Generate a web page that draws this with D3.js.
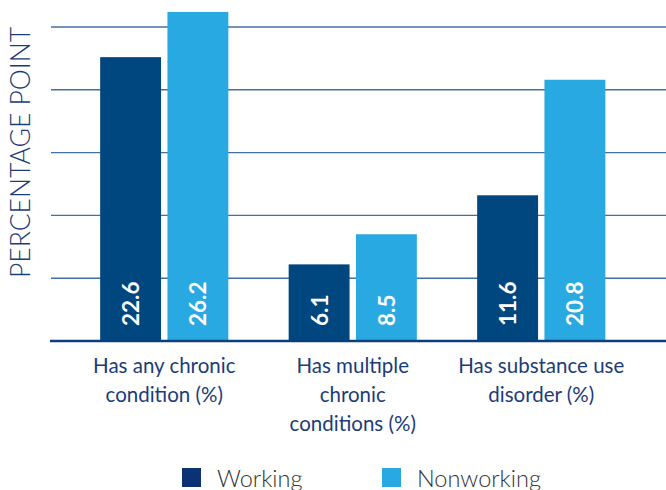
<!DOCTYPE html>
<html>
<head>
<meta charset="utf-8">
<script src="https://cdn.jsdelivr.net/npm/d3@7"></script>
<style>
  html, body { margin: 0; padding: 0; background: #fff; }
  svg { display: block; }
</style>
</head>
<body>
<svg id="chart" width="666" height="490"></svg>
<script>
const categories = [
  ["Has any chronic", "condition (%)"],
  ["Has multiple", "chronic", "conditions (%)"],
  ["Has substance use", "disorder (%)"]
];
const categoryKeys = ["any", "multiple", "substance"];
const seriesNames = ["Working", "Nonworking"];
const working = [22.6, 6.1, 11.6];
const nonworking = [26.2, 8.5, 20.8];
const yTicks = [5, 10, 15, 20, 25];
const yTitle = "PERCENTAGE POINT";

const colors = { Working: "#00467f", Nonworking: "#29a9e1" };
const legendColors = { Working: "#0b3373", Nonworking: "#29a9e1" };

const svg = d3.select("#chart");

const x0 = d3.scaleBand().domain(categoryKeys).range([70, 635.5])
  .paddingInner(0.32).paddingOuter(0.16);
const x1 = d3.scaleBand().domain(seriesNames).range([0, x0.bandwidth()])
  .paddingInner(0.095).paddingOuter(0);
const y = d3.scaleLinear().domain([0, 25]).range([341, 27]);

// gridlines
svg.append("g").selectAll("line").data(yTicks).join("line")
  .attr("x1", 51).attr("x2", 666)
  .attr("y1", d => y(d)).attr("y2", d => y(d))
  .attr("stroke", "#43709f").attr("stroke-width", 1.4);

// bars
const rows = categoryKeys.map((k, i) => ({ key: k, values: [
  { s: "Working", v: working[i] }, { s: "Nonworking", v: nonworking[i] }] }));

const groups = svg.append("g").selectAll("g").data(rows).join("g")
  .attr("transform", d => `translate(${x0(d.key)},0)`);

groups.selectAll("rect").data(d => d.values).join("rect")
  .attr("x", d => x1(d.s)).attr("width", x1.bandwidth())
  .attr("y", d => y(d.v)).attr("height", d => y(0) - y(d.v))
  .attr("fill", d => colors[d.s]);

groups.selectAll("text").data(d => d.values).join("text")
  .attr("transform", d => `translate(${x1(d.s) + x1.bandwidth() / 2 + 8.5},326) rotate(-90)`)
  .attr("text-anchor", "start")
  .attr("fill", "#fff")
  .attr("font-family", "Lato, 'Liberation Sans', sans-serif")
  .attr("font-weight", 700)
  .attr("font-size", 22.5)
  .text(d => d.v.toFixed(1));

// baseline
svg.append("line").attr("x1", 50).attr("x2", 666)
  .attr("y1", y(0)).attr("y2", y(0))
  .attr("stroke", "#0a3f7d").attr("stroke-width", 2.6);

// category labels
const catG = svg.append("g");
categoryKeys.forEach((k, i) => {
  const t = catG.append("text")
    .attr("x", x0(k) + x0.bandwidth() / 2)
    .attr("y", 373)
    .attr("text-anchor", "middle")
    .attr("fill", "#1b3c78")
    .attr("font-family", "Lato, 'Liberation Sans', sans-serif")
    .attr("font-size", 20.5);
  categories[i].forEach((line, j) => {
    t.append("tspan").attr("x", x0(k) + x0.bandwidth() / 2)
      .attr("dy", j === 0 ? 0 : 29).text(line);
  });
});

// y axis title
svg.append("text")
  .attr("transform", "translate(30,152.5) rotate(-90)")
  .attr("text-anchor", "middle")
  .attr("fill", "#1b3c78")
  .attr("font-weight", 300)
  .attr("font-family", "Lato, 'Liberation Sans', sans-serif")
  .attr("font-size", 26.5)
  .text(yTitle);

// legend
const legendX = [182, 382];
const lg = svg.append("g").selectAll("g").data(seriesNames).join("g")
  .attr("transform", (d, i) => `translate(${legendX[i]},468)`);
lg.append("rect").attr("width", 19).attr("height", 19)
  .attr("fill", d => legendColors[d]);
lg.append("text").attr("x", 35).attr("y", 18.5)
  .attr("fill", "#333")
  .attr("font-family", "Lato, 'Liberation Sans', sans-serif")
  .attr("font-weight", 300)
  .attr("font-size", 23.5)
  .text(d => d);
</script>
</body>
</html>
